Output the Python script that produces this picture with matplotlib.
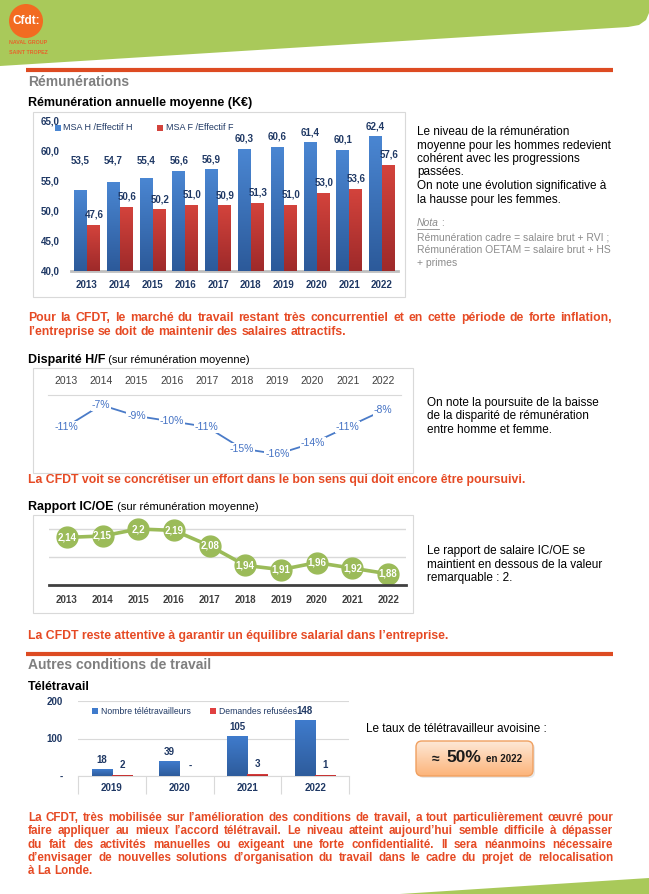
import numpy as np
import matplotlib
matplotlib.use('Agg')
import matplotlib.pyplot as plt
from matplotlib import font_manager
from matplotlib.colors import to_rgb
from matplotlib.patches import Rectangle, Circle, Polygon, FancyBboxPatch

W, H = 649, 894

# --- data ---
years = ['2013', '2014', '2015', '2016', '2017', '2018', '2019', '2020', '2021', '2022']
msa_h = [53.5, 54.7, 55.4, 56.6, 56.9, 60.3, 60.6, 61.4, 60.1, 62.4]
msa_f = [47.6, 50.6, 50.2, 51.0, 50.9, 51.3, 51.0, 53.0, 53.6, 57.6]
disparite = [-11, -7, -9, -10, -11, -15, -16, -14, -11, -8]
rapport = [2.14, 2.15, 2.2, 2.19, 2.08, 1.94, 1.91, 1.96, 1.92, 1.88]
tele_years = ['2019', '2020', '2021', '2022']
tele_nb = [18, 39, 105, 148]
tele_refus = [2, 0, 3, 1]

txt_remu = ['Le niveau de la rémunération',
            'moyenne pour les hommes redevient',
            'cohérent avec les progressions',
            'passées.',
            'On note une évolution significative à',
            'la hausse pour les femmes.']
txt_nota = ['Rémunération cadre = salaire brut + RVI ;',
            'Rémunération OETAM = salaire brut + HS',
            '+ primes']
txt_cfdt1 = ['Pour la CFDT, le marché du travail restant très concurrentiel et en cette période de forte inflation,',
             'l’entreprise se doit de maintenir des salaires attractifs.']
txt_disp = ['On note la poursuite de la baisse',
            'de la disparité de rémunération',
            'entre homme et femme.']
txt_cfdt2 = 'La CFDT voit se concrétiser un effort dans le bon sens qui doit encore être poursuivi.'
txt_icoe = ['Le rapport de salaire IC/OE se',
            'maintient en dessous de la valeur',
            'remarquable : 2.']
txt_cfdt3 = 'La CFDT reste attentive à garantir un équilibre salarial dans l’entreprise.'
txt_cfdt4 = ['La CFDT, très mobilisée sur l’amélioration des conditions de travail, a tout particulièrement œuvré pour',
             'faire appliquer au mieux l’accord télétravail. Le niveau atteint aujourd’hui semble difficile à dépasser',
             'du fait des activités manuelles ou exigeant une forte confidentialité. Il sera néanmoins nécessaire',
             'd’envisager de nouvelles solutions d’organisation du travail dans le cadre du projet de relocalisation',
             'à La Londe.']


def has_font(name):
    try:
        font_manager.findfont(font_manager.FontProperties(family=name),
                              fallback_to_default=False)
        return True
    except ValueError:
        return False


SANS = ['Liberation Sans', 'DejaVu Sans']
NARROW = (['Liberation Sans Narrow'] + SANS) if has_font('Liberation Sans Narrow') else SANS
plt.rcParams['font.family'] = SANS

ORANGE = '#dd4b22'
RED_TXT = '#e64a24'
GREEN = '#a9c95a'
NAVY = '#1f3864'
BLUE_T, BLUE_B = '#4a86d2', '#2c5a9a'
RED_T, RED_B = '#d3433c', '#9e2a2a'

fig = plt.figure(figsize=(W / 100, H / 100), dpi=100)
bg = fig.add_axes([0, 0, 1, 1], zorder=0)
bg.set_xlim(0, W)
bg.set_ylim(H, 0)
bg.axis('off')
R = fig.canvas.get_renderer()


def px_axes(x0, y0, x1, y1):
    ax = fig.add_axes([x0 / W, 1 - y1 / H, (x1 - x0) / W, (y1 - y0) / H], zorder=2)
    ax.set_facecolor('none')
    return ax


def txt(x, y, s, **kw):
    kw.setdefault('va', 'center')
    return bg.text(x, y, s, **kw)


def wid(t):
    return t.get_window_extent(R).width


def lines(x, y0, dy, rows, **kw):
    for i, r in enumerate(rows):
        txt(x, y0 + i * dy, r, **kw)


def justify(rows, x0, x1, y0, dy, size, **kw):
    probe = [bg.text(0, 0, r, fontsize=size, **kw) for r in rows]
    widest = max(wid(t) for t in probe)
    for t in probe:
        t.remove()
    if widest > (x1 - x0):
        size *= (x1 - x0) / widest * 0.98
    a = bg.text(0, 0, 'a a', fontsize=size, **kw)
    b = bg.text(0, 0, 'aa', fontsize=size, **kw)
    space = wid(a) - wid(b)
    a.remove()
    b.remove()
    for i, r in enumerate(rows):
        y = y0 + i * dy
        words = r.split()
        ts = [bg.text(0, y, w, fontsize=size, va='center', **kw) for w in words]
        ws = [wid(t) for t in ts]
        if i < len(rows) - 1 and len(words) > 1:
            gap = (x1 - x0 - sum(ws)) / (len(words) - 1)
        else:
            gap = space
        x = x0
        for t, w in zip(ts, ws):
            t.set_x(x)
            x += w + gap


def shade(ax, bars, top, bottom):
    g = np.linspace(0, 1, 64)[:, None, None]
    img = np.array(to_rgb(top)) * (1 - g) + np.array(to_rgb(bottom)) * g
    for b in bars:
        x, y, w, h = b.get_x(), b.get_y(), b.get_width(), b.get_height()
        if h <= 0:
            continue
        ax.imshow(img, extent=[x, x + w, y, y + h], aspect='auto',
                  origin='upper', zorder=3, interpolation='bilinear')


def square(x, y, c):
    bg.add_patch(Rectangle((x - 3, y - 3), 6, 6, color=c, lw=0))


# --- header ---
bg.add_patch(Polygon([(0, 0), (W, 0), (W, 13), (646, 20), (639, 25), (628, 27), (0, 66)],
                     closed=True, color=GREEN, lw=0))
bg.add_patch(Circle((26, 21), 17, color='#f26b21', lw=0))
txt(26, 21, 'Cfdt:', ha='center', color='white', fontsize=8.5, fontweight='bold')
txt(9, 43, 'NAVAL GROUP', color='#e8632a', fontsize=3.8, fontweight='bold', family=NARROW)
txt(9, 52, 'SAINT TROPEZ', color='#e8632a', fontsize=3.8, fontweight='bold', family=NARROW)
bg.add_patch(Polygon([(400, H), (W, 878), (W, H)], closed=True, color=GREEN, lw=0))

# --- section Rémunérations ---
bg.plot([26, 613], [70, 70], color=ORANGE, lw=3, solid_capstyle='butt')
txt(28, 82, 'Rémunérations', color='#7f7f7f', fontsize=10, fontweight='bold')
txt(28, 103, 'Rémunération annuelle moyenne (K€)', color='black', fontsize=9, fontweight='bold')
bg.add_patch(Rectangle((33, 112), 372, 185, fill=False, ec='#d9d9d9', lw=0.8))

ax1 = px_axes(70.6, 121, 398.4, 271)
x = np.arange(len(years))
bh = ax1.bar(x - 0.2, np.array(msa_h) - 40, 0.39, bottom=40, color=BLUE_B, zorder=2)
bf = ax1.bar(x + 0.2, np.array(msa_f) - 40, 0.39, bottom=40, color=RED_B, zorder=2)
shade(ax1, bh, BLUE_T, BLUE_B)
shade(ax1, bf, RED_T, RED_B)
for i, (vh, vf) in enumerate(zip(msa_h, msa_f)):
    ax1.annotate(f'{vh:.1f}'.replace('.', ','), (i - 0.2, max(vh, 56.6)), xytext=(0, 7.5),
                 textcoords='offset points', ha='center', va='center',
                 fontsize=7, color=NAVY, fontweight='bold')
    ax1.annotate(f'{vf:.1f}'.replace('.', ','), (i + 0.22, vf), xytext=(0, 7.5),
                 textcoords='offset points', ha='center', va='center',
                 fontsize=7, color=NAVY, fontweight='bold')
ax1.set_xlim(-0.5, 9.5)
ax1.set_ylim(40, 65)
ax1.set_xticks(x, years)
yt = np.arange(40, 66, 5)
ax1.set_yticks(yt, [f'{v:.1f}'.replace('.', ',') for v in yt])
ax1.tick_params(length=0, labelsize=7, labelcolor=NAVY)
ax1.tick_params(axis='y', pad=8)
ax1.tick_params(axis='x', pad=6.5)
for lab in ax1.get_xticklabels() + ax1.get_yticklabels():
    lab.set_fontweight('bold')
for s in ax1.spines.values():
    s.set_visible(False)
ax1.axhline(40, color='#bfbfbf', lw=2, clip_on=False, zorder=1)

square(58, 128, BLUE_T)
txt(63, 128, 'MSA H /Effectif H', fontsize=6.5, color=NAVY)
square(160, 128, RED_T)
txt(166, 128, 'MSA F /Effectif F', fontsize=6.5, color=NAVY)

lines(417, 132, 13.5, txt_remu, fontsize=8.5, color='black')
nota = txt(417, 223, 'Nota', fontsize=7.5, color='#8c8c8c', style='italic')
bg.plot([417, 417 + wid(nota)], [228.5, 228.5], color='#8c8c8c', lw=0.6)
txt(417 + wid(nota), 223, ' :', fontsize=7.5, color='#8c8c8c')
lines(417, 237, 13, txt_nota, fontsize=7.5, color='#8c8c8c')

justify(txt_cfdt1, 28, 612, 318, 14, 8.8, color=RED_TXT, fontweight='bold', family=NARROW)

# --- Disparité H/F ---
t = txt(28, 360, 'Disparité H/F', fontsize=9, fontweight='bold', color='black')
txt(28 + wid(t), 360, ' (sur rémunération moyenne)', fontsize=8, color='black')
bg.add_patch(Rectangle((33, 368), 380, 105, fill=False, ec='#d9d9d9', lw=0.8))

ax2 = px_axes(48.4, 395, 400.6, 465)
ax2.plot(x, disparite, color='#4a7bc8', lw=1.3, zorder=2)
for i, v in enumerate(disparite):
    ax2.text(i, v, f'{v}%', ha='center', va='center', fontsize=7.5, color='#4472c4',
             bbox=dict(fc='white', ec='none', pad=0.6), zorder=3)
ax2.set_xlim(-0.5, 9.5)
ax2.set_ylim(-18.0, -5.16)
ax2.xaxis.tick_top()
ax2.set_xticks(x, years)
ax2.set_yticks([])
ax2.tick_params(length=0, labelsize=7.5, labelcolor='#404040', pad=6.5)
for k, s in ax2.spines.items():
    s.set_visible(k == 'top')
ax2.spines['top'].set_color('#d9d9d9')

lines(427, 403, 13.5, txt_disp, fontsize=8.5, color='black')
txt(28, 480, txt_cfdt2, fontsize=8.8, color=RED_TXT, fontweight='bold', family=NARROW)

# --- Rapport IC/OE ---
t = txt(28, 507, 'Rapport IC/OE', fontsize=9, fontweight='bold', color='black')
txt(28 + wid(t), 507, ' (sur rémunération moyenne)', fontsize=8, color='black')
bg.add_patch(Rectangle((33, 515), 380, 98, fill=False, ec='#d9d9d9', lw=0.8))

ax3 = px_axes(49, 515, 406, 585)
for v in (2.0, 2.2):
    ax3.axhline(v, color='#d9d9d9', lw=1, zorder=1)
ax3.plot(x, rapport, color='#9bbb59', lw=2.6, marker='o', ms=15,
         mfc='#9bbb59', mec='#9bbb59', zorder=2, clip_on=False)
for i, v in enumerate(rapport):
    ax3.text(i, v, str(v).replace('.', ','), ha='center', va='center',
             fontsize=7, color='white', fontweight='bold', zorder=3)
ax3.set_xlim(-0.5, 9.5)
ax3.set_ylim(1.8, 2.3)
ax3.set_xticks(x, years)
ax3.set_yticks([])
ax3.tick_params(length=0, labelsize=7, labelcolor='#404040', pad=7)
for lab in ax3.get_xticklabels():
    lab.set_fontweight('bold')
for k, s in ax3.spines.items():
    s.set_visible(k == 'bottom')
ax3.spines['bottom'].set_color('#404040')
ax3.spines['bottom'].set_linewidth(2)

lines(427, 551, 13.5, txt_icoe, fontsize=8.5, color='black')
txt(28, 636, txt_cfdt3, fontsize=8.8, color=RED_TXT, fontweight='bold', family=NARROW)

# --- Autres conditions de travail ---
bg.plot([26, 613], [654, 654], color=ORANGE, lw=3, solid_capstyle='butt')
txt(28, 665, 'Autres conditions de travail', color='#7f7f7f', fontsize=10, fontweight='bold')
txt(28, 687, 'Télétravail', color='black', fontsize=9, fontweight='bold')

ax4 = px_axes(78, 701, 349, 776)
xt = np.arange(len(tele_years))
b1 = ax4.bar(xt - 0.15, tele_nb, 0.3, color=BLUE_B, zorder=2)
b2 = ax4.bar(xt + 0.15, tele_refus, 0.3, color='#c0392b', zorder=2)
shade(ax4, b1, '#3f7bcc', '#2e5c9c')
shade(ax4, b2, '#e04040', '#b02a2a')
for i, (n, r) in enumerate(zip(tele_nb, tele_refus)):
    ax4.annotate(str(n), (i - 0.15, n), xytext=(0, 7), textcoords='offset points',
                 ha='center', va='center', fontsize=7, color=NAVY, fontweight='bold')
    ax4.annotate(str(r) if r else '-', (i + 0.15, r), xytext=(0, 7.5), textcoords='offset points',
                 ha='center', va='center', fontsize=7, color=NAVY, fontweight='bold')
ax4.set_xlim(-0.5, 3.5)
ax4.set_ylim(0, 200)
ax4.set_xticks(xt, tele_years)
ax4.set_xticks(np.arange(-0.5, 4, 1), minor=True)
ax4.set_yticks([0, 100, 200], ['-', '100', '200'])
ax4.tick_params(which='major', length=0, labelsize=7, labelcolor=NAVY)
ax4.tick_params(axis='x', which='major', pad=5)
ax4.tick_params(axis='y', pad=11)
ax4.tick_params(axis='x', which='minor', length=13, color='#d9d9d9', width=0.8)
for lab in ax4.get_xticklabels() + ax4.get_yticklabels():
    lab.set_fontweight('bold')
ax4.yaxis.grid(True, color='#d9d9d9', lw=0.8)
ax4.set_axisbelow(True)
for k, s in ax4.spines.items():
    s.set_visible(k == 'bottom')
ax4.spines['bottom'].set_color('#d9d9d9')

square(95, 711, '#3f7bcc')
txt(101, 711, 'Nombre télétravailleurs', fontsize=6.2, color=NAVY)
square(213, 711, '#e04040')
txt(219, 711, 'Demandes refusées', fontsize=6.2, color=NAVY)

txt(366, 729, 'Le taux de télétravailleur avoisine :', fontsize=8.5, color='black')
bg.add_patch(FancyBboxPatch((418, 743), 117, 35, boxstyle='round,pad=0,rounding_size=6',
                            fc='#d9d9d9', ec='none', alpha=0.6))
badge = FancyBboxPatch((416, 741), 117, 35, boxstyle='round,pad=0,rounding_size=6',
                       fc='none', ec='#f0a060', lw=1, zorder=3)
bg.add_patch(badge)
g = np.linspace(0, 1, 64)[:, None, None]
grad = np.array(to_rgb('#fee8d6')) * (1 - g) + np.array(to_rgb('#fcb47a')) * g
im = bg.imshow(grad, extent=[416, 533, 776, 741], aspect='auto', origin='upper', zorder=2)
im.set_clip_path(badge)
txt(436, 759, '≈', ha='center', fontsize=10, fontweight='bold', color='#1a1a1a', zorder=4)
t = txt(446, 758, '50%', fontsize=12.5, fontweight='bold', color='#1a1a1a', zorder=4)
txt(446 + wid(t) + 5, 759, 'en 2022', fontsize=7, fontweight='bold', color='#1a1a1a',
    family=NARROW, zorder=4)

justify(txt_cfdt4, 28, 613, 818, 13.3, 8.8, color=RED_TXT, fontweight='bold', family=NARROW)

bg.set_xlim(0, W)
bg.set_ylim(H, 0)
fig.savefig('out.png', dpi=100)
